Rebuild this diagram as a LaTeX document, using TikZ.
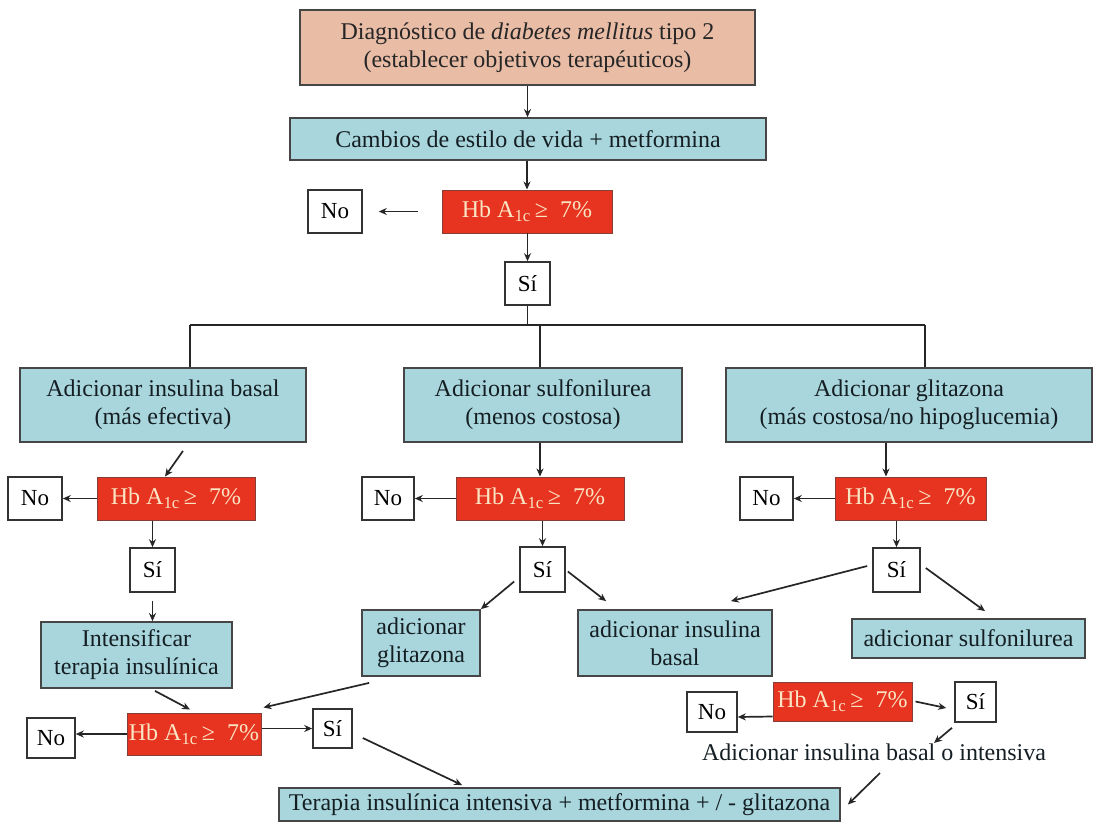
\documentclass[tikz,border=0pt]{standalone}
\usepackage{fontspec}
\setmainfont{Liberation Serif}
\usetikzlibrary{arrows.meta}
\definecolor{salmon}{RGB}{233,188,166}
\definecolor{lblue}{RGB}{168,214,220}
\definecolor{hbred}{RGB}{230,52,32}
\definecolor{bord}{RGB}{70,70,70}
\definecolor{hbtxt}{RGB}{250,228,195}
\definecolor{btxt}{RGB}{20,30,35}
\newcommand\HbA{Hb A\textsubscript{1c}\,≥\ \ 7\%}
\begin{document}
\begin{tikzpicture}[x=1pt,y=-1pt,
  box/.style={draw=bord, line width=1.8pt, inner sep=0pt, align=center, text=btxt,
    font=\fontsize{24}{28}\selectfont},
  bluebox/.style={box, fill=lblue},
  topbox/.style={box, fill=salmon, text=black!85},
  hb/.style={draw=bord!60!hbred, line width=1pt, fill=hbred, text=hbtxt, inner sep=0pt,
    font=\fontsize{24}{28}\selectfont},
  ans/.style={draw=black!80, line width=1.6pt, fill=white, inner sep=0pt,
    font=\fontsize{23}{26}\selectfont},
  plain/.style={inner sep=0pt, text=btxt, font=\fontsize{24}{28}\selectfont},
  arr/.style={-{Stealth[length=8pt,width=7pt]}, line width=1.7pt, draw=black!85},
  ln/.style={line width=1.7pt, draw=black!85},
  sz/.style 2 args={minimum width=#1pt, minimum height=#2pt}]
\useasboundingbox[fill=white] (0,0) rectangle (1103,823);

% nodes
\node[topbox, sz={455}{75}] (top) at (527.5,47.5)
  {Diagnóstico de \textit{diabetes mellitus} tipo 2\\(establecer objetivos terapéuticos)};
\node[bluebox, sz={476}{42}] (cambios) at (528,139) {Cambios de estilo de vida + metformina};
\node[hb, sz={170}{43}] (hb0) at (527,211.5) {\HbA};
\node[ans, sz={54}{43}] (no0) at (335,211.5) {No};
\node[ans, sz={45}{43}] (si0) at (527.5,283.5) {Sí};

\node[bluebox, sz={286}{74}] (ins) at (163,405) {Adicionar insulina basal\\(más efectiva)};
\node[bluebox, sz={278}{74}] (sulf) at (543,405) {Adicionar sulfonilurea\\(menos costosa)};
\node[bluebox, sz={366}{74}] (glit) at (909,405) {Adicionar glitazona\\(más costosa/no hipoglucemia)};

\node[hb, sz={158}{43}] (hb1) at (176,498.5) {\HbA};
\node[ans, sz={54}{43}] (no1) at (35,498.5) {No};
\node[ans, sz={45}{44}] (si1) at (152.5,570) {Sí};
\node[bluebox, sz={191}{66}] (intens) at (136.5,655) {Intensificar\\terapia insulínica};

\node[hb, sz={168}{43}] (hb2) at (540,498.5) {\HbA};
\node[ans, sz={52}{43}] (no2) at (388,498.5) {No};
\node[ans, sz={45}{45}] (si2) at (542.5,569.5) {Sí};
\node[bluebox, sz={118}{66}] (glit2) at (421,643) {adicionar\\glitazona};
\node[bluebox, sz={194}{66}] (insb) at (675,643) {adicionar insulina\\basal};

\node[hb, sz={151}{43}] (hb3) at (910.5,498.5) {\HbA};
\node[ans, sz={53}{43}] (no3) at (766.5,498.5) {No};
\node[ans, sz={47}{44}] (si3) at (896.5,570) {Sí};
\node[bluebox, sz={233}{39}] (sulfb) at (968.5,638.5) {adicionar sulfonilurea};

\node[hb, sz={139}{39}] (hb4) at (842.5,701.5) {\HbA};
\node[ans, sz={50}{40}] (no4) at (712,712) {No};
\node[ans, sz={41}{40}] (si4) at (975.5,702) {Sí};
\node[plain] (txt) at (874,752) {Adicionar insulina basal o intensiva};

\node[hb, sz={134}{42}] (hb5) at (194,734) {\HbA};
\node[ans, sz={48}{40}] (no5) at (51,738) {No};
\node[ans, sz={39}{39}] (si5) at (332.5,728.5) {Sí};
\node[bluebox, sz={561}{33}] (terapia) at (559.5,804.5)
  {Terapia insulínica intensiva + metformina + / - glitazona};

% connectors
\draw[arr] (top.south) -- (top.south |- cambios.north);
\draw[arr] (cambios.south -| hb0.north) -- (hb0.north);
\draw[arr, shorten <=24pt, shorten >=16pt] (hb0.west) -- (no0.east);
\draw[arr] (hb0.south) -- (hb0.south -| si0.north) -- (si0.north);

\coordinate (bl) at (190,325);
\coordinate (bm) at (540,325);
\coordinate (br) at (925,325);
\draw[ln] (si0.south) -- (si0.south |- bl);
\draw[ln] (bl) -- (br);
\draw[ln] (bl) -- (bl |- ins.north);
\draw[ln] (bm) -- (bm |- sulf.north);
\draw[ln] (br) -- (br |- glit.north);

\draw[arr] ([xshift=20pt,yshift=-8pt]ins.south) -- ([xshift=-11pt]hb1.north);
\draw[arr] (hb1.west) -- (no1.east);
\draw[arr] (si1.north |- hb1.south) -- (si1.north);
\draw[arr] ([yshift=-8pt]si1.south) -- (si1.south |- intens.north);

\draw[arr] (hb2.north |- sulf.south) -- (hb2.north);
\draw[arr] (hb2.west) -- (no2.east);
\draw[arr] (si2.north |- hb2.south) -- (si2.north);
\draw[arr] ([xshift=-5pt,yshift=-12pt]si2.west) -- (glit2.north east);
\draw[arr] ([xshift=2pt,yshift=-2pt]si2.east) -- ([xshift=29pt,yshift=8pt]insb.north west);

\draw[arr] ([xshift=-23pt]glit.south) -- ([xshift=-24.5pt]hb3.north);
\draw[arr] (hb3.west) -- (no3.east);
\draw[arr] (si3.north |- hb3.south) -- (si3.north);
\draw[arr] ([xshift=-5pt,yshift=4pt]si3.west) -- ([xshift=-42pt,yshift=8pt]insb.north east);
\draw[arr] ([xshift=5pt,yshift=2pt]si3.east) -- ([xshift=16.5pt,yshift=7pt]sulfb.north);

\draw[arr] ([yshift=-15pt]hb4.west) -- ([yshift=-5pt]no4.east);
\draw[arr] ([xshift=3pt]hb4.east) -- ([xshift=-8pt,yshift=-6pt]si4.west);
\draw[arr] ([xshift=-23.5pt,yshift=-5pt]si4.south) -- ([xshift=60pt,yshift=9pt]txt.center);
\draw[arr] ([xshift=6pt,yshift=-21pt]txt.center) -- ([xshift=7pt]terapia.east);

\draw[arr] ([xshift=18.5pt,yshift=-2pt]intens.south) -- ([xshift=-4pt,yshift=3pt]hb5.north);
\draw[arr] ([xshift=8pt,yshift=-6pt]glit2.south west) -- ([xshift=2pt,yshift=5pt]hb5.north east);
\draw[arr] (hb5.west) -- (no5.east |- hb5.west);
\draw[arr] (hb5.east |- si5.west) -- (si5.west);
\draw[arr] ([xshift=10pt,yshift=-9.5pt]si5.east) -- ([xshift=184pt,yshift=2pt]terapia.north west);
\end{tikzpicture}
\end{document}
